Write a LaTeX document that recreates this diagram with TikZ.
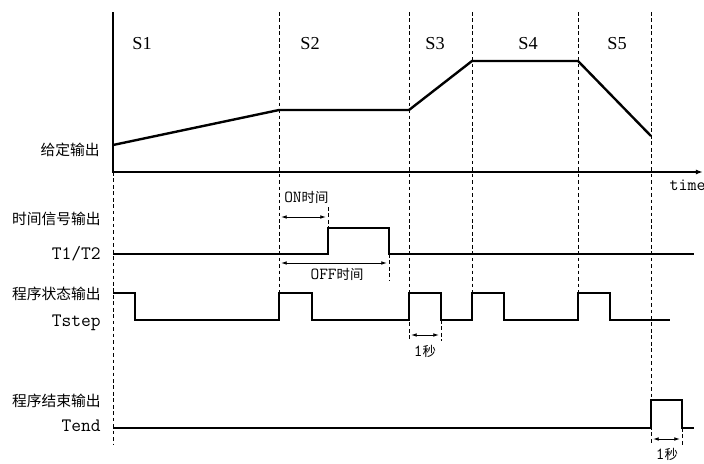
\documentclass[tikz,border=0pt]{standalone}
\usepackage{fontspec}
\setmainfont{Liberation Serif}
\newfontfamily\cjk{Noto Sans CJK SC}
\usetikzlibrary{arrows.meta}
\newcommand\latn[1]{{\ttfamily\fontsize{12}{12}\selectfont #1}}
\tikzset{
  sig/.style={line width=1.7pt, line join=miter},
  guide/.style={line width=0.6pt, dash pattern=on 2.6pt off 2pt},
  dim/.style={{Latex[length=4pt,width=2.6pt]}-{Latex[length=4pt,width=2.6pt]}, line width=0.6pt, shorten <=1.5pt, shorten >=1.5pt},
  rowlbl/.style={font=\cjk\fontsize{10.5}{12}\selectfont, anchor=east, inner sep=0pt},
  namelbl/.style={font=\ttfamily\fontsize{13.5}{15}\selectfont, anchor=east, inner sep=0pt},
  phase/.style={font=\fontsize{13}{15}\selectfont, inner sep=0pt},
  small/.style={font=\cjk\fontsize{9.5}{12}\selectfont, inner sep=0pt}
}
\begin{document}
\begin{tikzpicture}[x=0.025cm, y=-0.025cm]
  \useasboundingbox (0,0) rectangle (704,463);
  % axes
  \coordinate (top) at (113,12);
  \coordinate (org) at (113,172);
  \coordinate (tend) at (703,172);
  \draw[line width=1pt, -{Latex[length=5pt,width=3.5pt]}] (top) -- (org) -- (tend);
  \node[font=\ttfamily\fontsize{12.5}{14}\selectfont, anchor=north east, inner sep=0pt] (tlbl) at (706,180) {time};
  % phase boundaries
  \draw[guide] (113,172) -- (113,445);
  \draw[guide] (279,12) -- (279,293);
  \draw[guide] (409,12) -- (409,341);
  \draw[guide] (472,12) -- (472,293);
  \draw[guide] (578,12) -- (578,293);
  \draw[guide] (651,12) -- (651,445);
  \foreach \name/\x in {S1/142, S2/310, S3/435, S4/528, S5/617}
    \node[phase] (\name) at (\x,44) {\name};
  % set output
  \coordinate (g0) at (113,145);
  \coordinate (g1) at (279,110);
  \coordinate (g2) at (409,110);
  \coordinate (g3) at (472,61);
  \coordinate (g4) at (578,61);
  \coordinate (g5) at (651,136);
  \draw[sig] (g0) -- (g1) -- (g2) -- (g3) -- (g4) -- (g5);
  \node[rowlbl] (set) at (100,150) {给定输出};
  % T1/T2
  \node[rowlbl] (tsig) at (101,219) {时间信号输出};
  \node[namelbl] (t12) at (101,254) {T1/T2};
  \draw[sig] (113,254) -- (328,254) -- (328,228) -- (389,228) -- (389,254) -- (694,254);
  \draw[guide] (328,207) -- (328,228);
  \draw[guide] (389,254) -- (389,280);
  \coordinate (on0) at (279,217);
  \coordinate (on1) at (328,217);
  \draw[dim] (on0) -- (on1);
  \node[small, anchor=west] (onlbl) at (284,197) {\latn{ON}时间};
  \coordinate (off0) at (279,263);
  \coordinate (off1) at (389,263);
  \draw[dim] (off0) -- (off1);
  \node[small] (offlbl) at (337,274) {\latn{OFF}时间};
  % Tstep
  \node[rowlbl] (pst) at (101,294) {程序状态输出};
  \node[namelbl] (tstep) at (101,323) {Tstep};
  \draw[sig] (113,293) -- (135,293) -- (135,320) -- (279,320) -- (279,293) -- (312,293) -- (312,320)
    -- (409,320) -- (409,293) -- (441,293) -- (441,320) -- (472,320) -- (472,293) -- (504,293) -- (504,320)
    -- (578,320) -- (578,293) -- (610,293) -- (610,320) -- (670,320);
  \draw[guide] (441,320) -- (441,341);
  \coordinate (s0) at (409,335);
  \coordinate (s1) at (441,335);
  \draw[dim] (s0) -- (s1);
  \node[small] (slbl) at (425,351) {\latn{1}秒};
  % Tend
  \node[rowlbl] (pend) at (101,401) {程序结束输出};
  \node[namelbl] (tendlbl) at (101,426) {Tend};
  \draw[sig] (113,428) -- (651,428) -- (651,400) -- (682,400) -- (682,428) -- (694,428);
  \draw[guide] (682,428) -- (682,445);
  \coordinate (e0) at (651,439);
  \coordinate (e1) at (682,439);
  \draw[dim] (e0) -- (e1);
  \node[small] (elbl) at (667,454) {\latn{1}秒};
\end{tikzpicture}
\end{document}
